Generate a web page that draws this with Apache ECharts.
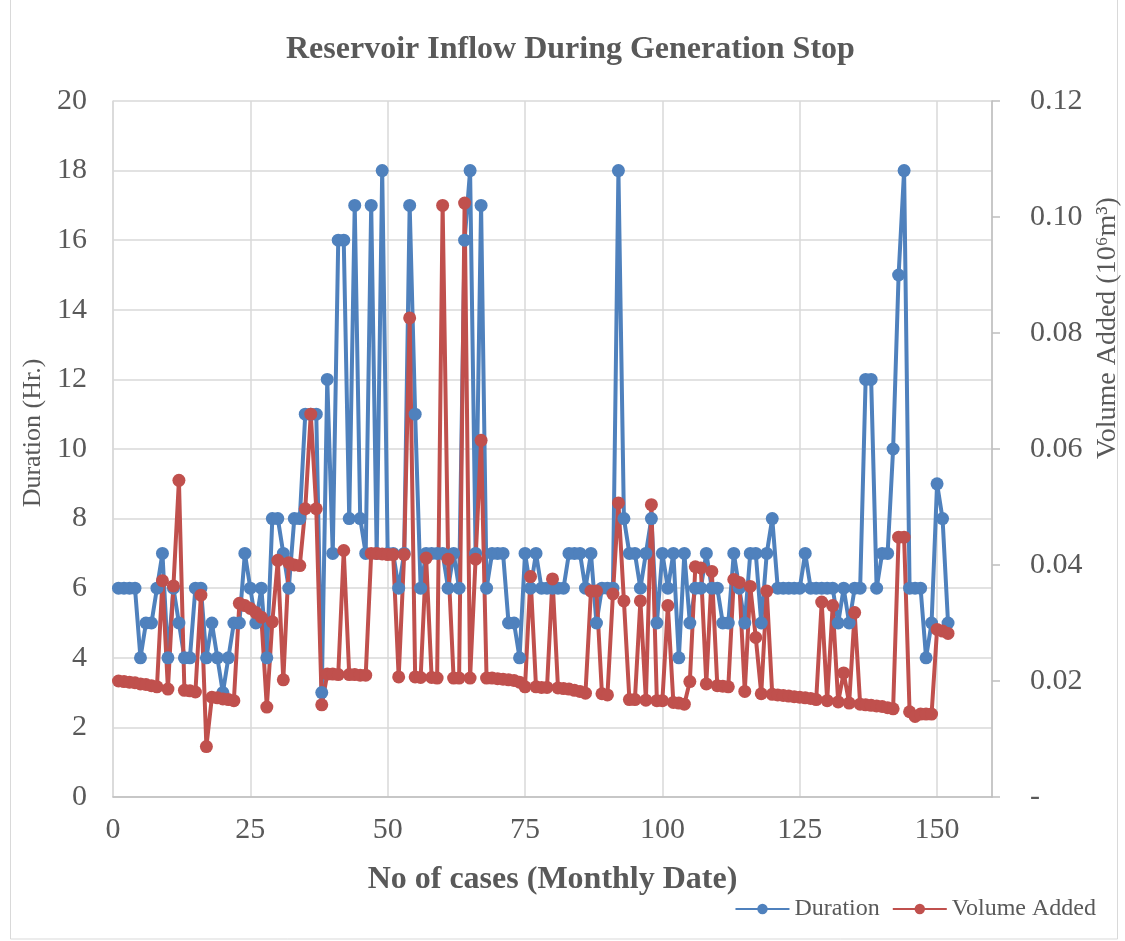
<!DOCTYPE html>
<html>
<head>
<meta charset="utf-8">
<title>Reservoir Inflow During Generation Stop</title>
<script src="https://cdn.jsdelivr.net/npm/echarts@6/dist/echarts.min.js"></script>
<style>
  html, body { margin: 0; padding: 0; background: #fff; }
  #chart { width: 1125px; height: 941px; }
</style>
</head>
<body>
<div id="chart"></div>
<script>
// case numbers 1..152 (monthly)
var caseNo = [];
for (var i = 1; i <= 152; i++) caseNo.push(i);

// duration in hours
var duration = [
  6, 6, 6, 6, 4, 5, 5, 6, 7, 4,
  6, 5, 4, 4, 6, 6, 4, 5, 4, 3,
  4, 5, 5, 7, 6, 5, 6, 4, 8, 8,
  7, 6, 8, 8, 11, 11, 11, 3, 12, 7,
  16, 16, 8, 17, 8, 7, 17, 7, 18, 7,
  7, 6, 7, 17, 11, 6, 7, 7, 7, 7,
  6, 7, 6, 16, 18, 7, 17, 6, 7, 7,
  7, 5, 5, 4, 7, 6, 7, 6, 6, 6,
  6, 6, 7, 7, 7, 6, 7, 5, 6, 6,
  6, 18, 8, 7, 7, 6, 7, 8, 5, 7,
  6, 7, 4, 7, 5, 6, 6, 7, 6, 6,
  5, 5, 7, 6, 5, 7, 7, 5, 7, 8,
  6, 6, 6, 6, 6, 7, 6, 6, 6, 6,
  6, 5, 6, 5, 6, 6, 12, 12, 6, 7,
  7, 10, 15, 18, 6, 6, 6, 4, 5, 9,
  8, 5
];

// volume added, 10^6 m3
var volume = [
  0.0200, 0.0199, 0.0198, 0.0197, 0.0195, 0.0194, 0.0192, 0.0190, 0.0373, 0.0186,
  0.0364, 0.0546, 0.0184, 0.0183, 0.0181, 0.0348, 0.0087, 0.0172, 0.0171, 0.0169,
  0.0168, 0.0166, 0.0334, 0.0330, 0.0325, 0.0318, 0.0310, 0.0155, 0.0302, 0.0408,
  0.0202, 0.0404, 0.0400, 0.0399, 0.0497, 0.0660, 0.0497, 0.0159, 0.0212, 0.0212,
  0.0211, 0.0425, 0.0211, 0.0211, 0.0210, 0.0210, 0.0420, 0.0420, 0.0419, 0.0418,
  0.0418, 0.0207, 0.0418, 0.0826, 0.0207, 0.0206, 0.0412, 0.0206, 0.0205, 0.1020,
  0.0410, 0.0205, 0.0205, 0.1024, 0.0205, 0.0410, 0.0615, 0.0205, 0.0205, 0.0204,
  0.0203, 0.0202, 0.0201, 0.0198, 0.0190, 0.0380, 0.0190, 0.0189, 0.0189, 0.0376,
  0.0188, 0.0187, 0.0186, 0.0184, 0.0182, 0.0179, 0.0355, 0.0355, 0.0178, 0.0176,
  0.0350, 0.0507, 0.0338, 0.0168, 0.0168, 0.0338, 0.0167, 0.0504, 0.0166, 0.0166,
  0.0330, 0.0163, 0.0162, 0.0160, 0.0199, 0.0397, 0.0395, 0.0195, 0.0389, 0.0192,
  0.0191, 0.0190, 0.0375, 0.0370, 0.0182, 0.0363, 0.0275, 0.0178, 0.0355, 0.0177,
  0.0176, 0.0175, 0.0174, 0.0173, 0.0172, 0.0171, 0.0170, 0.0168, 0.0336, 0.0166,
  0.0330, 0.0164, 0.0214, 0.0162, 0.0318, 0.0160, 0.0159, 0.0158, 0.0157, 0.0156,
  0.0154, 0.0152, 0.0448, 0.0448, 0.0147, 0.0139, 0.0143, 0.0143, 0.0143, 0.0289,
  0.0286, 0.0282
];

var serif = "'Liberation Serif', 'Times New Roman', serif";
var textColor = '#595959';
var gridColor = '#d9d9d9';

function pairs(xs, ys) {
  var out = [];
  for (var k = 0; k < xs.length; k++) out.push([xs[k], ys[k]]);
  return out;
}

var myChart = echarts.init(document.getElementById('chart'));

var option = {
  backgroundColor: '#fff',
  animation: false,
  textStyle: { fontFamily: serif, color: textColor },
  title: {
    text: 'Reservoir Inflow During Generation Stop',
    left: 281,
    top: 29,
    textStyle: { fontFamily: serif, fontSize: 32, fontWeight: 'bold', color: textColor }
  },
  legend: {
    right: 24,
    bottom: 15,
    itemWidth: 54,
    itemHeight: 13,
    itemGap: 12,
    textStyle: { fontFamily: serif, fontSize: 24, color: textColor },
    data: ['Duration', 'Volume Added']
  },
  grid: { left: 113, top: 101, width: 879, height: 696, outerBoundsMode: 'none', containLabel: false },
  xAxis: {
    type: 'value',
    min: 0,
    max: 160,
    interval: 25,
    name: 'No of cases (Monthly Date)',
    nameLocation: 'middle',
    nameGap: 67,
    nameTextStyle: { fontFamily: serif, fontSize: 32, fontWeight: 'bold', color: textColor },
    axisLine: { show: true, lineStyle: { color: '#bfbfbf', width: 1.5 } },
    axisTick: { show: false },
    axisLabel: { margin: 18, fontSize: 30, color: textColor, fontFamily: serif, showMaxLabel: false },
    splitLine: { show: true, lineStyle: { color: gridColor, width: 1.5 } }
  },
  yAxis: [
    {
      type: 'value',
      min: 0,
      max: 20,
      interval: 2,
      name: 'Duration (Hr.)',
      nameLocation: 'middle',
      nameGap: 63,
      nameRotate: 90,
      nameTextStyle: { fontFamily: serif, fontSize: 26, color: textColor, padding: [0, 0, 0, 32] },
      axisLine: { show: true, lineStyle: { color: gridColor, width: 1.5 } },
      axisTick: { show: false },
      axisLabel: { margin: 26, fontSize: 30, color: textColor, fontFamily: serif },
      splitLine: { show: true, lineStyle: { color: gridColor, width: 1.5 } }
    },
    {
      type: 'value',
      min: 0,
      max: 0.12,
      interval: 0.02,
      position: 'right',
      name: 'Volume Added (10\u2076m\u00b3)',
      nameLocation: 'middle',
      nameGap: 96,
      nameRotate: 90,
      nameTextStyle: { fontFamily: serif, fontSize: 28, color: textColor, padding: [0, 0, 0, 242] },
      axisLine: { show: true, lineStyle: { color: '#bfbfbf', width: 1.5 } },
      axisTick: { show: true, length: 8, lineStyle: { color: '#bfbfbf', width: 1.5 } },
      axisLabel: {
        margin: 38,
        fontSize: 30,
        color: textColor,
        fontFamily: serif,
        formatter: function (v) { return v === 0 ? '-' : v.toFixed(2); }
      },
      splitLine: { show: false }
    }
  ],
  series: [
    {
      name: 'Duration',
      type: 'line',
      yAxisIndex: 0,
      symbol: 'circle',
      symbolSize: 13,
      color: '#4f81bd',
      lineStyle: { width: 4 },
      data: pairs(caseNo, duration)
    },
    {
      name: 'Volume Added',
      type: 'line',
      yAxisIndex: 1,
      symbol: 'circle',
      symbolSize: 13,
      color: '#c0504d',
      lineStyle: { width: 4 },
      data: pairs(caseNo, volume)
    }
  ],
  graphic: [
    {
      type: 'rect',
      shape: { x: 10.5, y: -2, width: 1107, height: 941 },
      style: { fill: 'none', stroke: '#d9d9d9', lineWidth: 1 },
      silent: true
    }
  ]
};

myChart.setOption(option);
</script>
</body>
</html>
